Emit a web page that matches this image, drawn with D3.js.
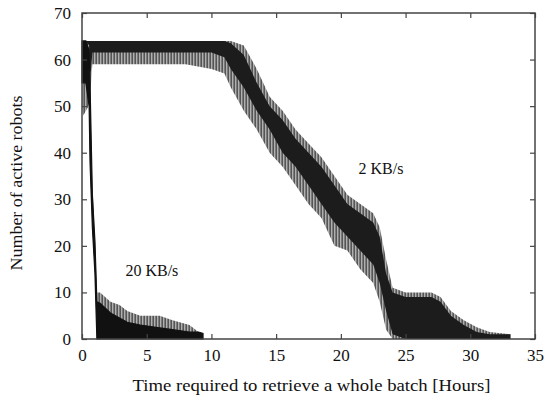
<!DOCTYPE html>
<html><head><meta charset="utf-8">
<script src="https://cdn.jsdelivr.net/npm/d3@7/dist/d3.min.js"></script>
<style>body{margin:0;background:#fff}svg{display:block}</style>
</head><body><svg id="c" width="548" height="397"></svg>
<script>
// 2 KB/s series: time (hours), dense core band (lo..hi), spike fringe (spikeLo..spikeHi)
const slowT      = [0, 0.1, 0.5, 0.7, 0.8, 2, 4, 6, 8, 10, 11, 11.5, 12.5, 13.5, 14.5, 15.5, 16.5, 17.5, 18.5, 19.5, 20.5, 21.5, 22.5, 23.0, 23.5, 24.0, 25, 26, 27, 27.7, 28.5, 29.5, 30.5, 31.5, 33.1];
const slowHi     = [64, 64, 64, 64, 64, 64, 64, 64, 64, 64, 64, 63.5, 61, 55, 50, 47, 43, 40, 37, 33, 29, 27, 25, 22, 14, 10, 9, 9, 9, 8, 5, 3, 1.5, 1, 1];
const slowLo     = [58, 55, 56, 58, 61.5, 61.5, 61.5, 61.5, 61.5, 61.5, 60.5, 58, 54, 49, 45, 40, 37, 33, 29, 25, 22, 19, 16, 12, 6, 1, 0, 0, 0, 0, 0, 0, 0, 0, 0];
const slowSpikeHi= [64, 64, 64, 64, 64, 64, 64, 64, 64, 64, 64, 64, 63, 58, 52, 49, 45, 42, 39, 35, 31, 29, 27, 24, 17, 11, 10, 10, 10, 9, 6, 4, 2.5, 1.5, 1];
const slowSpikeLo= [50, 48, 50, 55, 59, 59, 59, 59, 59, 58, 57, 54, 49, 45, 40, 37, 33, 29, 26, 20, 19, 15, 12, 8, 2, 0, 0, 0, 0, 0, 0, 0, 0, 0, 0];
// 20 KB/s series
const fastT      = [0, 0.3, 0.55, 0.62, 0.8, 1.0, 1.15, 1.4, 2.2, 2.9, 3.5, 4.5, 6, 7, 8.3, 9.0, 9.35];
const fastHi     = [64, 64, 62, 55, 31, 21, 8, 7.7, 5.6, 4.5, 3.6, 3, 2.4, 2, 1.5, 1.5, 1.2];
const fastLo     = [55, 55, 50, 38, 24, 14, 0, 0, 0, 0, 0, 0, 0, 0, 0, 0, 0];
const fastSpikeHi= [64, 64, 63, 56, 33, 22, 10, 10, 8, 7.3, 6, 5, 5, 4, 3, 1.5, 1.2];
const xTicks = [0, 5, 10, 15, 20, 25, 30, 35];
const yTicks = [0, 10, 20, 30, 40, 50, 60, 70];
const seriesLabels = ["2 KB/s", "20 KB/s"];
const xTitle = "Time required to retrieve a whole batch [Hours]";
const yTitle = "Number of active robots";

const FONT = '"Liberation Serif"';
const svg = d3.select("#c");
const m = {l: 82, r: 13, t: 13, b: 58};
const W = 548, H = 397;
const x = d3.scaleLinear().domain([0, 35]).range([m.l, W - m.r]);
const y = d3.scaleLinear().domain([0, 70]).range([H - m.b, m.t]);

// fine vertical hairline texture for the noisy fringe
const defs = svg.append("defs");
const pat = defs.append("pattern").attr("id", "spk").attr("patternUnits", "userSpaceOnUse")
  .attr("width", 3).attr("height", 6);
pat.append("rect").attr("width", 3).attr("height", 6).attr("fill", "#b0b0b0");
pat.append("rect").attr("x", 0).attr("width", 1).attr("height", 6).attr("fill", "#555");
pat.append("rect").attr("x", 2).attr("width", 1).attr("height", 6).attr("fill", "#7a7a7a");

function band(T, lo, hi, fill, stroke) {
  const d = T.map((t, i) => ({t, lo: lo[i], hi: hi[i]}));
  svg.append("path").datum(d)
    .attr("d", d3.area().x(p => x(p.t)).y0(p => y(p.lo)).y1(p => y(p.hi)))
    .attr("fill", fill).attr("stroke", stroke || "none").attr("stroke-width", stroke ? 1.2 : 0);
}
band(slowT, slowSpikeLo, slowSpikeHi, "url(#spk)");
band(slowT, slowLo, slowHi, "#1c1c1c");
band(fastT, fastLo, fastSpikeHi, "url(#spk)");
band(fastT, fastLo, fastHi, "#111", "#111");

// frame and ticks
const g = svg.append("g");
g.append("rect").attr("x", x(0)).attr("y", y(70)).attr("width", x(35) - x(0)).attr("height", y(0) - y(70))
  .attr("fill", "none").attr("stroke", "#444").attr("stroke-width", 1.5);
const ax = g.append("g").attr("transform", `translate(0,${y(0)})`)
  .call(d3.axisBottom(x).tickValues(xTicks).tickSize(-5).tickPadding(10));
const axT = g.append("g").attr("transform", `translate(0,${y(70)})`)
  .call(d3.axisTop(x).tickValues(xTicks).tickSize(-5).tickFormat(""));
const ay = g.append("g").attr("transform", `translate(${x(0)},0)`)
  .call(d3.axisLeft(y).tickValues(yTicks).tickSize(-5).tickPadding(11));
const ayR = g.append("g").attr("transform", `translate(${x(35)},0)`)
  .call(d3.axisRight(y).tickValues(yTicks).tickSize(-5).tickFormat(""));
[ax, axT, ay, ayR].forEach(a => {
  a.attr("font-family", null).attr("font-size", null);
  a.select(".domain").remove();
  a.selectAll("line").attr("stroke", "#444").attr("stroke-width", 1.2);
  a.selectAll("text").style("font-size", "17px").style("font-family", FONT).attr("fill", "#111");
});

function label(xp, yp, txt, opts) {
  const t = svg.append("text").attr("x", xp).attr("y", yp).attr("text-anchor", "middle")
    .style("font-family", FONT).style("font-size", "16px").attr("fill", "#111").text(txt);
  if (opts && opts.len) t.attr("textLength", opts.len).attr("lengthAdjust", "spacingAndGlyphs");
  if (opts && opts.rot) t.attr("transform", `rotate(-90,${xp},${yp})`);
  return t;
}
label((x(0) + x(35)) / 2 + 3, 391, xTitle, {len: 358});
label(22, 183, yTitle, {len: 175, rot: true});
label(x(23.1), y(35.4), seriesLabels[0]);
label(x(5.4), y(13.5), seriesLabels[1]);
</script></body></html>
